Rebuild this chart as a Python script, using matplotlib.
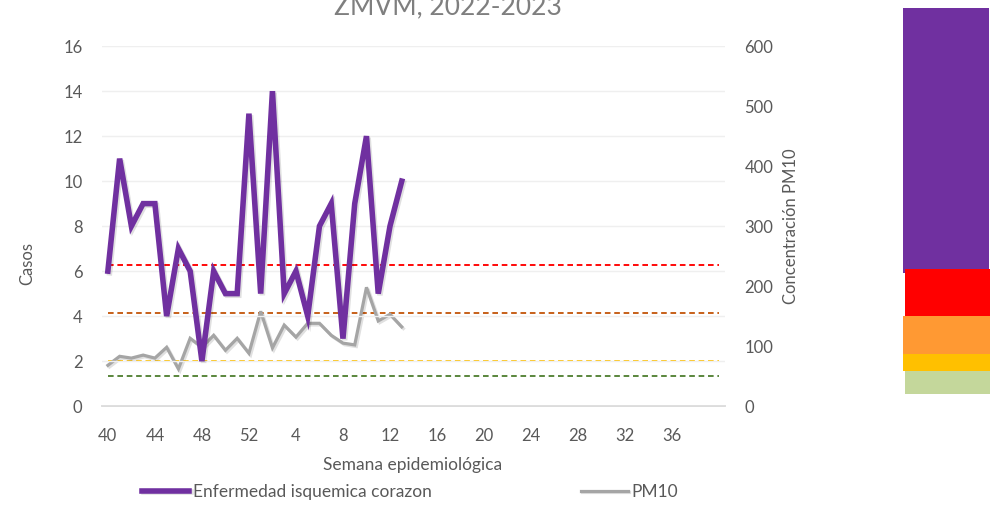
import matplotlib
matplotlib.use('Agg')
import matplotlib.pyplot as plt
import matplotlib.patheffects as pe
from matplotlib.patches import Rectangle

plt.rcParams['font.family'] = ['Lato', 'DejaVu Sans']

# semanas epidemiologicas 40-52 de 2022 y 1-40 de 2023
semanas = list(range(40, 53)) + list(range(1, 41))
casos = [6, 11, 8, 9, 9, 4, 7, 6, 2, 6, 5, 5, 13, 5, 14, 5, 6, 4, 8, 9, 3, 9, 12, 5, 8, 10]
pm10 = [68, 83, 80, 85, 80, 98, 62, 113, 98, 118, 93, 113, 88, 158, 97, 135, 115, 138,
        138, 118, 105, 102, 198, 142, 153, 132]
# limites del indice de calidad del aire para PM10
limites = [235, 155, 75, 50]
colores_limites = ['#FF0000', '#C55A11', '#FFC000', '#548235']

x = list(range(len(semanas)))
txt = '#595959'

fig = plt.figure(figsize=(10, 5.07), dpi=100)
ax2 = fig.add_axes([0.102, 0.199, 0.623, 0.71])
ax = ax2.twinx()
ax.set_zorder(ax2.get_zorder() + 1)
ax.patch.set_visible(False)

shadow = [pe.SimpleLineShadow(offset=(1.2, -1.2), shadow_color='black', alpha=0.12), pe.Normal()]

for val, col in zip(limites, colores_limites):
    ax2.plot([x[0], x[-1]], [val, val], color=col, lw=1.35, ls=(0, (3, 2)))
ax2.plot(x[:len(pm10)], pm10, color='#A5A5A5', lw=2.3, path_effects=shadow,
         solid_joinstyle='miter', label='PM10')
ax.plot(x[:len(casos)], casos, color='#7030A0', lw=4, path_effects=shadow,
        solid_joinstyle='miter', label='Enfermedad isquemica corazon')

# casos a la izquierda, PM10 a la derecha
ax.yaxis.tick_left()
ax.yaxis.set_label_position('left')
ax2.yaxis.tick_right()
ax2.yaxis.set_label_position('right')

ax.set_ylim(0, 16)
ax.set_yticks(range(0, 17, 2))
ax2.set_ylim(0, 600)
ax2.set_yticks(range(0, 601, 100))
ax2.set_xlim(-0.5, len(semanas) - 0.5)
ax2.set_xticks(x[:49:4])
ax2.set_xticklabels([str(s) for s in semanas[:49:4]])

ax.grid(axis='y', color='#EFEFEF', lw=1)
for a in (ax, ax2):
    for s in ('top', 'left', 'right', 'bottom'):
        a.spines[s].set_visible(False)
ax2.spines['bottom'].set_visible(True)
ax2.spines['bottom'].set_color('#D9D9D9')
ax2.spines['bottom'].set_linewidth(1.3)

ax.tick_params(axis='y', length=0, pad=14, labelsize=12, labelcolor=txt)
ax.tick_params(axis='x', length=0, labelbottom=False)
ax2.tick_params(axis='y', length=0, pad=14, labelsize=12, labelcolor=txt)
ax2.tick_params(axis='x', length=0, pad=16, labelsize=12, labelcolor=txt)

fig.text(0.027, 0.48, 'Casos', rotation=90, ha='center', va='center', fontsize=12, color=txt)
fig.text(0.791, 0.553, 'Concentración PM10', rotation=90, ha='center', va='center',
         fontsize=12, color=txt)
fig.text(0.413, 0.083, 'Semana epidemiológica', ha='center', va='center', fontsize=12.5, color=txt)
fig.text(0.448, 0.971, 'ZMVM, 2022-2023', ha='center', va='baseline', fontsize=19,
         color='#7F7F7F')

h1, l1 = ax.get_legend_handles_labels()
h2, l2 = ax2.get_legend_handles_labels()
leg = fig.legend(h1 + h2, l1 + l2, loc='center', bbox_to_anchor=(0.41, 0.03), ncol=2,
                 frameon=False, fontsize=12.5, handlelength=2.7, handletextpad=0.2,
                 columnspacing=8.6)
for t in leg.get_texts():
    t.set_color(txt)

# bloques de color a la derecha (escala de calidad del aire)
W, H = 1000, 507
bloques = [(903, 8, 989, 273, '#7030A0'), (905, 269, 990, 316, '#FF0000'),
           (903, 316, 990, 354, '#FF9933'), (903, 354, 990, 371, '#FFC000'),
           (905, 371, 990, 394, '#C4D79B')]
for x0, y0, x1, y1, c in bloques:
    fig.add_artist(Rectangle((x0 / W, 1 - y1 / H), (x1 - x0) / W, (y1 - y0) / H,
                             transform=fig.transFigure, color=c, lw=0))

fig.savefig('out.png', dpi=100)
